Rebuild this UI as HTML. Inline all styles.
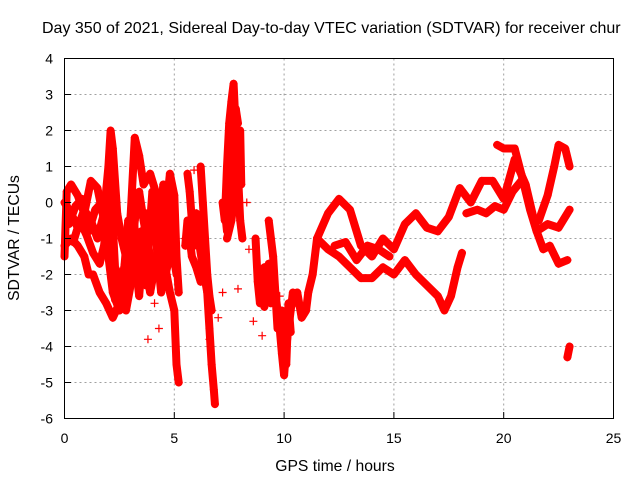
<!DOCTYPE html>
<html><head><meta charset="utf-8"><style>
body{margin:0;background:#fff}
svg{display:block;font-family:"Liberation Sans",sans-serif}
</style></head><body>
<svg id="chart" width="640" height="480">
<rect width="640" height="480" fill="#fff"/>
<text x="42" y="33" font-size="16" fill="#000">Day 350 of 2021, Sidereal Day-to-day VTEC variation (SDTVAR) for receiver chur</text>
<g id="grid"></g>
<g id="marks"></g>
<rect x="64.5" y="58.5" width="549" height="360" fill="none" stroke="#000"/>
<g id="axes" font-size="14"></g>
<text x="335" y="471" font-size="15.7" text-anchor="middle">GPS time / hours</text>
<text transform="translate(19,238) rotate(-90)" font-size="15.7" text-anchor="middle">SDTVAR / TECUs</text>
</svg>
<script>
const xTicks=[0,5,10,15,20,25];
const yTicks=[4,3,2,1,0,-1,-2,-3,-4,-5,-6];
const tracks=[
[[0,-1.5],[0.1,0.3],[0.3,0.5],[0.6,0.2],[0.9,-0.3],[1.2,0.6],[1.5,0.4],[1.8,-0.5],[2.0,-1.5],[2.2,-2.5],[2.5,-3.0],[2.7,-2.5],[3.0,-2.0],[3.2,-0.5],[3.4,0.3],[3.6,-0.5],[3.9,-1.5],[4.2,-2.0],[4.5,-1.0],[4.8,0.8],[5.0,0.2],[5.1,-1.5],[5.2,-2.5]],
[[0,0],[0.3,-0.3],[0.6,-0.7],[0.9,-0.2],[1.2,-0.5],[1.5,-1.0],[1.8,-0.3],[2.0,1.0],[2.1,2.0],[2.2,1.5],[2.4,-0.3],[2.6,-1.0],[2.8,-1.5],[3.0,-0.5],[3.2,1.8],[3.4,1.3],[3.6,0.5],[3.9,0.8],[4.2,0.2],[4.5,-1.5],[4.8,-2.5],[5.0,-3.0],[5.1,-4.5],[5.2,-5.0]],
[[0,-1.2],[0.3,-1.0],[0.6,-1.2],[0.9,-1.5],[1.1,-2.0],[1.3,-2.0],[1.6,-2.5],[1.9,-2.8],[2.2,-3.2],[2.5,-2.8],[2.8,-3.0],[3.1,-2.0],[3.3,-1.0],[3.6,-1.5],[3.9,-2.5],[4.2,-1.5],[4.5,0.5],[4.8,-0.5],[5.0,-1.5]],
[[0.2,-0.6],[0.5,-0.1],[0.8,0.1],[1.1,-0.8],[1.4,-0.2],[1.7,0.0],[1.9,-0.8],[2.1,0.5],[2.3,-1.8],[2.6,-2.2],[2.9,-1.2],[3.1,0.2],[3.3,-1.8],[3.5,-0.8],[3.7,-2.3],[4.0,0.3],[4.3,-0.8],[4.6,-2.0],[4.9,-1.2],[5.1,-2.0]],
[[0.4,-1.1],[0.7,-0.5],[1.0,-0.9],[1.3,-1.4],[1.6,-1.7],[1.8,-1.2],[2.1,0.2],[2.3,-2.7],[2.7,-2.0],[2.9,-0.5],[3.2,-1.5],[3.4,-2.6],[3.7,-0.3],[3.9,-1.0],[4.1,-0.6],[4.4,-2.5],[4.7,-1.5],[4.9,-0.2]],
[[5.6,0.8],[5.7,0.3],[5.8,-0.5],[5.9,-1.2],[6.0,-0.3],[6.1,-1.0],[6.3,-1.8],[6.5,-2.5],[6.6,-3.5],[6.7,-4.5],[6.8,-5.2],[6.85,-5.6]],
[[6.2,1.0],[6.3,0],[6.4,-1.0],[6.5,-2.0],[6.6,-2.6],[6.7,-3.0]],
[[5.5,-1.2],[5.6,-0.5],[5.8,-1.5],[6.0,-1.8],[6.2,-2.2]],
[[7.2,0],[7.3,-0.5],[7.4,1.0],[7.5,2.2],[7.6,2.8],[7.7,3.3],[7.8,2.0],[7.9,0.8],[8.0,-0.5],[8.1,-1.0]],
[[7.4,-1.0],[7.6,-0.5],[7.8,0.5],[7.9,1.5],[8.0,2.0],[8.05,0.5]],
[[7.3,-0.2],[7.4,-0.8],[7.5,-0.2],[7.6,0.8],[7.7,1.8],[7.8,2.6],[7.9,2.2]],
[[8.7,-1.0],[8.8,-2.2],[8.9,-2.8],[9.0,-2.3],[9.1,-1.8],[9.2,-2.6],[9.3,-2.0],[9.4,-2.8],[9.5,-2.2],[9.6,-2.5],[9.7,-3.5]],
[[8.8,-1.9],[8.9,-2.4],[9.0,-2.0],[9.1,-2.9],[9.2,-2.2],[9.3,-1.7],[9.4,-2.4],[9.5,-2.6]],
[[9.3,-0.5],[9.4,-1.0],[9.5,-1.5],[9.6,-2.5],[9.7,-3.0],[9.8,-3.5],[9.9,-4.2],[10.0,-4.8],[10.1,-4.0],[10.2,-3.5],[10.3,-3.0],[10.4,-2.5]],
[[9.9,-3.0],[10.0,-3.5],[10.1,-4.5],[10.2,-2.8],[10.3,-3.6]],
[[10.6,-2.5],[10.8,-3.2],[11.0,-3.0],[11.1,-2.5],[11.3,-2.0],[11.5,-1.0]],
[[11.5,-1.0],[12,-0.3],[12.5,0.1],[13,-0.2],[13.5,-1.2],[14,-1.5],[14.5,-1.0],[15,-1.3],[15.5,-0.6],[16,-0.3],[16.5,-0.7],[17,-0.8],[17.5,-0.4],[18,0.4],[18.5,0.0],[19,0.6],[19.5,0.6],[20,0.1],[20.5,1.2],[21,0.5],[21.5,-0.8],[22,-0.6],[22.5,-0.7],[23,-0.2]],
[[11.5,-1.0],[12,-1.3],[12.5,-1.5],[13,-1.8],[13.5,-2.1],[14,-2.1],[14.5,-1.8],[15,-2.0],[15.5,-1.6],[16,-2.0],[16.5,-2.3],[17,-2.6],[17.3,-3.0],[17.6,-2.6],[17.9,-1.8],[18.1,-1.4]],
[[12.3,-1.2],[12.8,-1.1],[13.3,-1.6],[13.8,-1.2],[14.3,-1.3],[14.8,-1.5]],
[[18.3,-0.3],[18.8,-0.2],[19.2,-0.3],[19.6,-0.1],[20.0,-0.2],[20.4,0.3],[20.8,0.6]],
[[19.7,1.6],[20,1.5],[20.5,1.5],[20.8,0.8],[21.2,-0.2],[21.5,-0.8],[21.8,-1.3],[22.1,-1.2],[22.5,-1.7],[22.9,-1.6]],
[[21.6,-0.5],[22.0,0.2],[22.3,1.0],[22.5,1.6],[22.8,1.5],[23.0,1.0]],
[[22.9,-4.3],[23.0,-4.0]]
];
const scatterT=[2.9,3.6,4.1,5.5,5.9,6.6,7.0,7.2,8.3,8.4,8.6,9.0,9.8,10.5,6.3,4.3,3.8,2.6,7.9];
const scatterV=[-2.3,-1.8,-2.8,-1.0,0.9,-3.8,-3.2,-2.5,0.0,-1.3,-3.3,-3.7,-2.6,-2.8,-1.6,-3.5,-3.8,-0.8,-2.4];
const X=t=>64.5+t*21.96, Y=v=>58.5+(4-v)*36;
const NS='http://www.w3.org/2000/svg';
const grid=document.getElementById('grid'),axes=document.getElementById('axes'),marks=document.getElementById('marks');
function mk(tag,attrs,parent){const e=document.createElementNS(NS,tag);for(const k in attrs)e.setAttribute(k,attrs[k]);parent.appendChild(e);return e;}
xTicks.forEach(t=>{
 if(t>0&&t<25){const g=mk('line',{x1:X(t),x2:X(t),y1:58.5,y2:418.5,stroke:'#a0a0a0','stroke-dasharray':'2,3'},grid);
 
 }
 const tk=mk('line',{x1:X(t),x2:X(t),y1:418.5,y2:412,stroke:'#000'},axes);
 
 
 const l=mk('text',{x:X(t),y:443,'text-anchor':'middle'},axes);l.textContent=t;
 
 
});
yTicks.forEach(v=>{
 if(v<4&&v>-6){const g=mk('line',{x1:64.5,x2:613.5,y1:Y(v),y2:Y(v),stroke:'#a0a0a0','stroke-dasharray':'2,3'},grid);
 
 }
 const tk=mk('line',{x1:64.5,x2:71,y1:Y(v),y2:Y(v),stroke:'#000'},axes);
 
 
 const l=mk('text',{x:53,y:Y(v)+5,'text-anchor':'end'},axes);l.textContent=v;
 
 
});
function plus(t,v,name){const x=X(t),y=Y(v);
 const p=mk('path',{d:`M${x-4},${y}h8M${x},${y-4}v8`,stroke:'#f00','stroke-width':1.2},marks);
 
 }
tracks.forEach((tr,i)=>{
 const pl=mk('polyline',{points:tr.map(p=>X(p[0])+','+Y(p[1])).join(' '),fill:'none',stroke:'#f00','stroke-width':8,'stroke-linejoin':'round','stroke-linecap':'round'},marks);
 
 
 tr.forEach(p=>plus(p[0],p[1],'sdtvar-point'));
});
scatterT.forEach((t,i)=>plus(t,scatterV[i],'sdtvar-outlier'));
</script>
</body></html>
